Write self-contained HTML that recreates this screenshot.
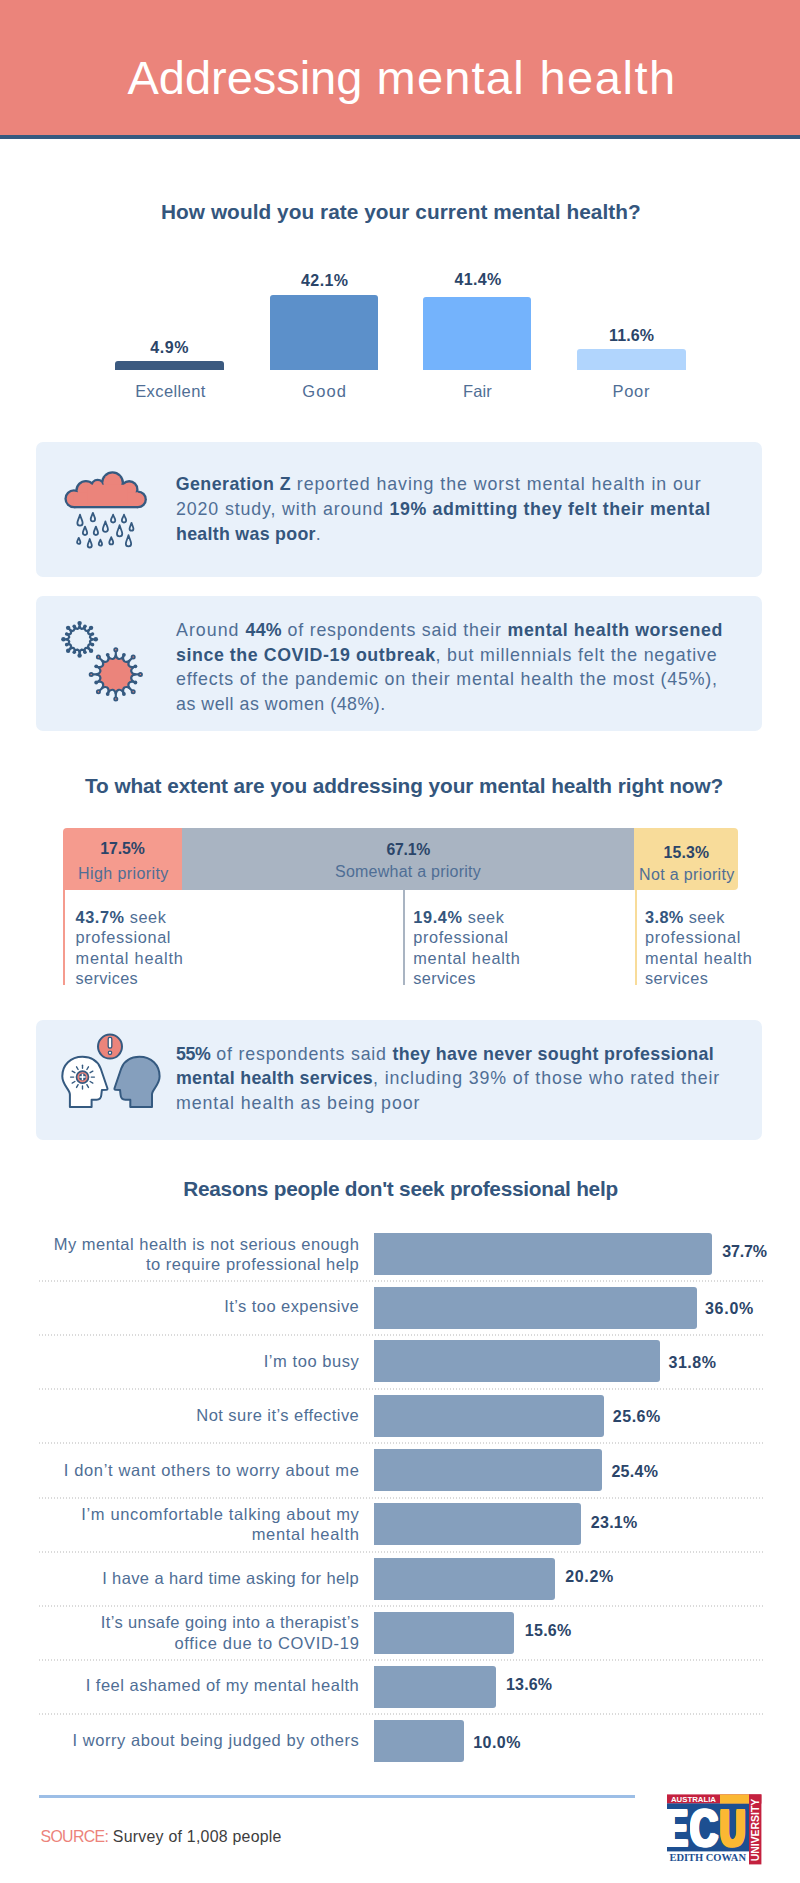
<!DOCTYPE html>
<html lang="en"><head><meta charset="utf-8"><title>Addressing mental health</title>
<style>
html,body{margin:0;padding:0;background:#fff;}
#page{position:relative;width:800px;height:1883px;overflow:hidden;background:#fff;font-family:"Liberation Sans",sans-serif;color:#4f6e95;}
#page div,#page svg{position:absolute;}
.t{position:absolute;margin:0;padding:0;font-weight:normal;white-space:nowrap;line-height:1;color:#4f6e95;}
.t b{color:#34567d;font-weight:bold;}
.t .src{color:#ec837b;}
.hdr{left:0;top:0;width:800px;height:135px;background:#eb847b;}
.hdrline{left:0;top:135px;width:800px;height:4px;background:#355a80;}
.box{left:36px;width:726.4px;background:#e9f1fa;border-radius:7px;}
.vb{border-radius:3px 3px 0 0;}
.hb{left:374.2px;height:42.3px;background:#859fbd;border-radius:0 3px 3px 0;}
.dot{left:39px;width:723.5px;height:2px;background-image:repeating-linear-gradient(90deg,#dadada 0,#dadada 1px,transparent 1px,transparent 3px);}
.ecu{font-weight:bold;line-height:1;white-space:nowrap;transform-origin:0 0;}

</style></head>
<body>
<div id="page">
<div class="hdr"></div><div class="hdrline"></div>
<div class="vb" style="left:114.5px;top:360.8px;width:109.3px;height:9.0px;background:#3b5a80"></div>
<div class="vb" style="left:270.0px;top:295.1px;width:108.3px;height:74.7px;background:#5c90ca"></div>
<div class="vb" style="left:423.2px;top:296.5px;width:108.1px;height:73.3px;background:#74b3fc"></div>
<div class="vb" style="left:577.0px;top:349.0px;width:108.7px;height:20.8px;background:#b1d5fd"></div>
<div class="box" style="top:441.85px;height:135.25px"></div>
<div class="box" style="top:596.00px;height:135.20px"></div>
<div class="box" style="top:1020.00px;height:119.50px"></div>
<div style="left:63px;top:828px;width:119.2px;height:61.6px;background:#f59b8e;border-radius:4px 0 0 0"></div>
<div style="left:182.2px;top:828px;width:452px;height:61.6px;background:#a9b4c2"></div>
<div style="left:634.2px;top:828px;width:103.8px;height:61.6px;background:#f8dc9a;border-radius:0 4px 4px 0"></div>
<div style="left:63.0px;top:889px;width:2px;height:95.5px;background:#f59b8e"></div>
<div style="left:403.0px;top:889px;width:2px;height:95.5px;background:#a9b4c2"></div>
<div style="left:634.8px;top:889px;width:2px;height:95.5px;background:#f8dc9a"></div>
<div class="hb" style="top:1232.7px;width:337.6px"></div>
<div class="hb" style="top:1286.5px;width:322.6px"></div>
<div class="hb" style="top:1340.1px;width:285.7px"></div>
<div class="hb" style="top:1394.7px;width:229.5px"></div>
<div class="hb" style="top:1449.2px;width:227.5px"></div>
<div class="hb" style="top:1503.2px;width:206.7px"></div>
<div class="hb" style="top:1557.6px;width:180.7px"></div>
<div class="hb" style="top:1611.6px;width:139.5px"></div>
<div class="hb" style="top:1665.6px;width:121.5px"></div>
<div class="hb" style="top:1719.8px;width:89.5px"></div>
<div class="dot" style="top:1280px"></div>
<div class="dot" style="top:1334px"></div>
<div class="dot" style="top:1388px"></div>
<div class="dot" style="top:1442px"></div>
<div class="dot" style="top:1497px"></div>
<div class="dot" style="top:1551px"></div>
<div class="dot" style="top:1605px"></div>
<div class="dot" style="top:1659px"></div>
<div class="dot" style="top:1713px"></div>
<div style="left:39px;top:1795px;width:595.5px;height:3px;background:#9cbee6"></div>
<svg style="left:55px;top:462px" width="100" height="93" viewBox="55 462 100 93">
<g fill="#355a80"><circle cx="73.9" cy="498.8" r="9.5"/><circle cx="85.9" cy="490.6" r="10.6"/><circle cx="97.6" cy="486.2" r="7.4"/><circle cx="112.5" cy="482.8" r="11.5"/><circle cx="129.2" cy="489.4" r="9.3"/><circle cx="138" cy="499.4" r="8.9"/><rect x="73.9" y="490" width="64.1" height="18.3"/><rect x="85" y="482.5" width="45" height="20"/></g>
<g fill="#eb847b"><circle cx="73.9" cy="498.8" r="7.2"/><circle cx="85.9" cy="490.6" r="8.3"/><circle cx="97.6" cy="486.2" r="5.1"/><circle cx="112.5" cy="482.8" r="9.2"/><circle cx="129.2" cy="489.4" r="7"/><circle cx="138" cy="499.4" r="6.6"/><rect x="73.9" y="492.3" width="64.1" height="13.7"/><rect x="87.3" y="484.8" width="40.4" height="20"/></g>
<g fill="none" stroke="#355a80" stroke-width="1.8" stroke-linejoin="round"><path d="M80.00 514.70C80.93 518.46 82.65 520.67 82.65 523.05A2.65 2.65 0 0 1 77.35 523.05C77.35 520.67 79.07 518.46 80.00 514.70Z"/><path d="M92.90 512.80C93.65 515.66 95.05 517.22 95.05 519.15A2.15 2.15 0 0 1 90.75 519.15C90.75 517.22 92.15 515.66 92.90 512.80Z"/><path d="M113.10 514.70C113.85 517.24 115.25 518.42 115.25 520.35A2.15 2.15 0 0 1 110.95 520.35C110.95 518.42 112.35 517.24 113.10 514.70Z"/><path d="M124.00 514.70C124.75 517.24 126.15 518.42 126.15 520.35A2.15 2.15 0 0 1 121.85 520.35C121.85 518.42 123.25 517.24 124.00 514.70Z"/><path d="M85.00 526.60C85.75 529.41 87.15 530.92 87.15 532.85A2.15 2.15 0 0 1 82.85 532.85C82.85 530.92 84.25 529.41 85.00 526.60Z"/><path d="M95.90 526.60C96.65 529.41 98.05 530.92 98.05 532.85A2.15 2.15 0 0 1 93.75 532.85C93.75 530.92 95.15 529.41 95.90 526.60Z"/><path d="M105.40 521.40C106.29 524.98 107.95 527.06 107.95 529.35A2.55 2.55 0 0 1 102.85 529.35C102.85 527.06 104.51 524.98 105.40 521.40Z"/><path d="M119.60 525.20C120.53 529.00 122.25 531.27 122.25 533.65A2.65 2.65 0 0 1 116.95 533.65C116.95 531.27 118.67 529.00 119.60 525.20Z"/><path d="M131.50 522.80C132.18 525.48 133.45 527.00 133.45 528.75A1.95 1.95 0 0 1 129.55 528.75C129.55 527.00 130.82 525.48 131.50 522.80Z"/><path d="M78.75 537.80C79.33 539.76 80.40 540.67 80.40 542.15A1.65 1.65 0 0 1 77.10 542.15C77.10 540.67 78.17 539.76 78.75 537.80Z"/><path d="M89.75 539.00C90.47 541.90 91.80 543.61 91.80 545.45A2.05 2.05 0 0 1 87.70 545.45C87.70 543.61 89.03 541.90 89.75 539.00Z"/><path d="M100.40 539.70C100.98 541.66 102.05 542.57 102.05 544.05A1.65 1.65 0 0 1 98.75 544.05C98.75 542.57 99.82 541.66 100.40 539.70Z"/><path d="M111.25 537.20C111.93 539.56 113.20 540.69 113.20 542.45A1.95 1.95 0 0 1 109.30 542.45C109.30 540.69 110.57 539.56 111.25 537.20Z"/><path d="M128.50 535.20C129.43 539.00 131.15 541.27 131.15 543.65A2.65 2.65 0 0 1 125.85 543.65C125.85 541.27 127.57 539.00 128.50 535.20Z"/></g>
</svg>
<svg style="left:55px;top:615px" width="100" height="95" viewBox="55 615 100 95">
<path d="M77.53 628.90Q79.09 628.41 79.60 626.30Q80.11 628.41 81.67 628.90Q83.29 629.04 84.57 627.29Q84.24 629.44 85.49 630.49Q86.94 631.24 88.79 630.11Q87.66 631.96 88.41 633.41Q89.46 634.66 91.61 634.33Q89.86 635.61 90.00 637.23Q90.49 638.79 92.60 639.30Q90.49 639.81 90.00 641.37Q89.86 642.99 91.61 644.27Q89.46 643.94 88.41 645.19Q87.66 646.64 88.79 648.49Q86.94 647.36 85.49 648.11Q84.24 649.16 84.57 651.31Q83.29 649.56 81.67 649.70Q80.11 650.19 79.60 652.30Q79.09 650.19 77.53 649.70Q75.91 649.56 74.63 651.31Q74.96 649.16 73.71 648.11Q72.26 647.36 70.41 648.49Q71.54 646.64 70.79 645.19Q69.74 643.94 67.59 644.27Q69.34 642.99 69.20 641.37Q68.71 639.81 66.60 639.30Q68.71 638.79 69.20 637.23Q69.34 635.61 67.59 634.33Q69.74 634.66 70.79 633.41Q71.54 631.96 70.41 630.11Q72.26 631.24 73.71 630.49Q74.96 629.44 74.63 627.29Q75.91 629.04 77.53 628.90Z" fill="none" stroke="#355a80" stroke-width="2.3" stroke-linejoin="round"/><line x1="79.60" y1="626.80" x2="79.60" y2="623.10" stroke="#355a80" stroke-width="2.3" stroke-linecap="round"/><circle cx="79.60" cy="623.10" r="2.2" fill="#355a80"/><line x1="84.38" y1="627.75" x2="84.96" y2="626.37" stroke="#355a80" stroke-width="2.3" stroke-linecap="round"/><circle cx="84.96" cy="626.37" r="1.8" fill="#355a80"/><line x1="88.44" y1="630.46" x2="91.06" y2="627.84" stroke="#355a80" stroke-width="2.3" stroke-linecap="round"/><circle cx="91.06" cy="627.84" r="2.2" fill="#355a80"/><line x1="91.15" y1="634.52" x2="92.53" y2="633.94" stroke="#355a80" stroke-width="2.3" stroke-linecap="round"/><circle cx="92.53" cy="633.94" r="1.8" fill="#355a80"/><line x1="92.10" y1="639.30" x2="95.80" y2="639.30" stroke="#355a80" stroke-width="2.3" stroke-linecap="round"/><circle cx="95.80" cy="639.30" r="2.2" fill="#355a80"/><line x1="91.15" y1="644.08" x2="92.53" y2="644.66" stroke="#355a80" stroke-width="2.3" stroke-linecap="round"/><circle cx="92.53" cy="644.66" r="1.8" fill="#355a80"/><line x1="88.44" y1="648.14" x2="91.06" y2="650.76" stroke="#355a80" stroke-width="2.3" stroke-linecap="round"/><circle cx="91.06" cy="650.76" r="2.2" fill="#355a80"/><line x1="84.38" y1="650.85" x2="84.96" y2="652.23" stroke="#355a80" stroke-width="2.3" stroke-linecap="round"/><circle cx="84.96" cy="652.23" r="1.8" fill="#355a80"/><line x1="79.60" y1="651.80" x2="79.60" y2="655.50" stroke="#355a80" stroke-width="2.3" stroke-linecap="round"/><circle cx="79.60" cy="655.50" r="2.2" fill="#355a80"/><line x1="74.82" y1="650.85" x2="74.24" y2="652.23" stroke="#355a80" stroke-width="2.3" stroke-linecap="round"/><circle cx="74.24" cy="652.23" r="1.8" fill="#355a80"/><line x1="70.76" y1="648.14" x2="68.14" y2="650.76" stroke="#355a80" stroke-width="2.3" stroke-linecap="round"/><circle cx="68.14" cy="650.76" r="2.2" fill="#355a80"/><line x1="68.05" y1="644.08" x2="66.67" y2="644.66" stroke="#355a80" stroke-width="2.3" stroke-linecap="round"/><circle cx="66.67" cy="644.66" r="1.8" fill="#355a80"/><line x1="67.10" y1="639.30" x2="63.40" y2="639.30" stroke="#355a80" stroke-width="2.3" stroke-linecap="round"/><circle cx="63.40" cy="639.30" r="2.2" fill="#355a80"/><line x1="68.05" y1="634.52" x2="66.67" y2="633.94" stroke="#355a80" stroke-width="2.3" stroke-linecap="round"/><circle cx="66.67" cy="633.94" r="1.8" fill="#355a80"/><line x1="70.76" y1="630.46" x2="68.14" y2="627.84" stroke="#355a80" stroke-width="2.3" stroke-linecap="round"/><circle cx="68.14" cy="627.84" r="2.2" fill="#355a80"/><line x1="74.82" y1="627.75" x2="74.24" y2="626.37" stroke="#355a80" stroke-width="2.3" stroke-linecap="round"/><circle cx="74.24" cy="626.37" r="1.8" fill="#355a80"/>
<path d="M112.74 659.00Q115.05 658.42 115.80 655.10Q116.55 658.42 118.86 659.00Q121.22 659.35 123.19 656.57Q122.61 659.92 124.52 661.35Q126.57 662.57 129.45 660.75Q127.63 663.63 128.85 665.68Q130.28 667.59 133.63 667.01Q130.85 668.98 131.20 671.34Q131.78 673.65 135.10 674.40Q131.78 675.15 131.20 677.46Q130.85 679.82 133.63 681.79Q130.28 681.21 128.85 683.12Q127.63 685.17 129.45 688.05Q126.57 686.23 124.52 687.45Q122.61 688.88 123.19 692.23Q121.22 689.45 118.86 689.80Q116.55 690.38 115.80 693.70Q115.05 690.38 112.74 689.80Q110.38 689.45 108.41 692.23Q108.99 688.88 107.08 687.45Q105.03 686.23 102.15 688.05Q103.97 685.17 102.75 683.12Q101.32 681.21 97.97 681.79Q100.75 679.82 100.40 677.46Q99.82 675.15 96.50 674.40Q99.82 673.65 100.40 671.34Q100.75 668.98 97.97 667.01Q101.32 667.59 102.75 665.68Q103.97 663.63 102.15 660.75Q105.03 662.57 107.08 661.35Q108.99 659.92 108.41 656.57Q110.38 659.35 112.74 659.00Z" fill="#eb847b" stroke="#355a80" stroke-width="2.15" stroke-linejoin="round"/><line x1="115.80" y1="655.60" x2="115.80" y2="649.80" stroke="#355a80" stroke-width="2.15" stroke-linecap="round"/><circle cx="115.80" cy="649.80" r="1.6" fill="#eb847b" stroke="#355a80" stroke-width="1.8"/><line x1="122.99" y1="657.03" x2="123.91" y2="654.81" stroke="#355a80" stroke-width="2.15" stroke-linecap="round"/><circle cx="123.91" cy="654.81" r="1.9" fill="#355a80"/><line x1="129.09" y1="661.11" x2="133.19" y2="657.01" stroke="#355a80" stroke-width="2.15" stroke-linecap="round"/><circle cx="133.19" cy="657.01" r="1.6" fill="#eb847b" stroke="#355a80" stroke-width="1.8"/><line x1="133.17" y1="667.21" x2="135.39" y2="666.29" stroke="#355a80" stroke-width="2.15" stroke-linecap="round"/><circle cx="135.39" cy="666.29" r="1.9" fill="#355a80"/><line x1="134.60" y1="674.40" x2="140.40" y2="674.40" stroke="#355a80" stroke-width="2.15" stroke-linecap="round"/><circle cx="140.40" cy="674.40" r="1.6" fill="#eb847b" stroke="#355a80" stroke-width="1.8"/><line x1="133.17" y1="681.59" x2="135.39" y2="682.51" stroke="#355a80" stroke-width="2.15" stroke-linecap="round"/><circle cx="135.39" cy="682.51" r="1.9" fill="#355a80"/><line x1="129.09" y1="687.69" x2="133.19" y2="691.79" stroke="#355a80" stroke-width="2.15" stroke-linecap="round"/><circle cx="133.19" cy="691.79" r="1.6" fill="#eb847b" stroke="#355a80" stroke-width="1.8"/><line x1="122.99" y1="691.77" x2="123.91" y2="693.99" stroke="#355a80" stroke-width="2.15" stroke-linecap="round"/><circle cx="123.91" cy="693.99" r="1.9" fill="#355a80"/><line x1="115.80" y1="693.20" x2="115.80" y2="699.00" stroke="#355a80" stroke-width="2.15" stroke-linecap="round"/><circle cx="115.80" cy="699.00" r="1.6" fill="#eb847b" stroke="#355a80" stroke-width="1.8"/><line x1="108.61" y1="691.77" x2="107.69" y2="693.99" stroke="#355a80" stroke-width="2.15" stroke-linecap="round"/><circle cx="107.69" cy="693.99" r="1.9" fill="#355a80"/><line x1="102.51" y1="687.69" x2="98.41" y2="691.79" stroke="#355a80" stroke-width="2.15" stroke-linecap="round"/><circle cx="98.41" cy="691.79" r="1.6" fill="#eb847b" stroke="#355a80" stroke-width="1.8"/><line x1="98.43" y1="681.59" x2="96.21" y2="682.51" stroke="#355a80" stroke-width="2.15" stroke-linecap="round"/><circle cx="96.21" cy="682.51" r="1.9" fill="#355a80"/><line x1="97.00" y1="674.40" x2="91.20" y2="674.40" stroke="#355a80" stroke-width="2.15" stroke-linecap="round"/><circle cx="91.20" cy="674.40" r="1.6" fill="#eb847b" stroke="#355a80" stroke-width="1.8"/><line x1="98.43" y1="667.21" x2="96.21" y2="666.29" stroke="#355a80" stroke-width="2.15" stroke-linecap="round"/><circle cx="96.21" cy="666.29" r="1.9" fill="#355a80"/><line x1="102.51" y1="661.11" x2="98.41" y2="657.01" stroke="#355a80" stroke-width="2.15" stroke-linecap="round"/><circle cx="98.41" cy="657.01" r="1.6" fill="#eb847b" stroke="#355a80" stroke-width="1.8"/><line x1="108.61" y1="657.03" x2="107.69" y2="654.81" stroke="#355a80" stroke-width="2.15" stroke-linecap="round"/><circle cx="107.69" cy="654.81" r="1.9" fill="#355a80"/>
</svg>
<svg style="left:55px;top:1028px" width="112" height="87" viewBox="55 1028 112 87">
<path d="M69.9 1107.1L69.9 1094.5C69.9 1089 62.3 1085.5 62.3 1076.3C62.3 1065 70.6 1056.7 82.5 1056.7C91.2 1056.7 98 1061.2 100.6 1068.3L107.4 1088.3Q107.7 1089.6 106.4 1089.7L101.9 1089.9L101.3 1095Q101 1099.7 96.6 1099.7L91.6 1099.8L91.6 1107.1Z" fill="#fff" stroke="#355a80" stroke-width="2" stroke-linejoin="round"/>
<g transform="translate(221.9 0) scale(-1 1)"><path d="M69.9 1107.1L69.9 1094.5C69.9 1089 62.3 1085.5 62.3 1076.3C62.3 1065 70.6 1056.7 82.5 1056.7C91.2 1056.7 98 1061.2 100.6 1068.3L107.4 1088.3Q107.7 1089.6 106.4 1089.7L101.9 1089.9L101.3 1095Q101 1099.7 96.6 1099.7L91.6 1099.8L91.6 1107.1Z" fill="#859fbd" stroke="#355a80" stroke-width="2" stroke-linejoin="round"/></g>
<g stroke="#355a80" stroke-width="1.4" stroke-linecap="round"><line x1="91.30" y1="1077.10" x2="94.40" y2="1077.10"/><line x1="90.12" y1="1081.50" x2="92.81" y2="1083.05"/><line x1="86.90" y1="1084.72" x2="88.45" y2="1087.41"/><line x1="82.50" y1="1085.90" x2="82.50" y2="1089.00"/><line x1="78.10" y1="1084.72" x2="76.55" y2="1087.41"/><line x1="74.88" y1="1081.50" x2="72.19" y2="1083.05"/><line x1="73.70" y1="1077.10" x2="70.60" y2="1077.10"/><line x1="74.88" y1="1072.70" x2="72.19" y2="1071.15"/><line x1="78.10" y1="1069.48" x2="76.55" y2="1066.79"/><line x1="82.50" y1="1068.30" x2="82.50" y2="1065.20"/><line x1="86.90" y1="1069.48" x2="88.45" y2="1066.79"/><line x1="90.12" y1="1072.70" x2="92.81" y2="1071.15"/></g><circle cx="82.5" cy="1077.1" r="6" fill="#eb847b" stroke="#355a80" stroke-width="1.7"/><circle cx="82.5" cy="1077.1" r="3.5" fill="#355a80"/><path d="M82.5 1074.6v5M80 1077.1h5" stroke="#fff" stroke-width="1.5" stroke-linecap="round"/>
<circle cx="110" cy="1046.6" r="12" fill="#eb847b" stroke="#355a80" stroke-width="2"/>
<rect x="108.2" y="1037.4" width="3.6" height="10.6" rx="1.6" fill="#fff" stroke="#355a80" stroke-width="1.3"/>
<circle cx="110" cy="1052.8" r="1.7" fill="#fff" stroke="#355a80" stroke-width="1.3"/>
</svg>
<svg style="left:660px;top:1788px" width="110" height="84" viewBox="660 1788 110 84">
<rect x="667" y="1794.4" width="94.4" height="9.2" fill="#c4213f"/>
<rect x="749" y="1794.4" width="12.4" height="70" fill="#c4213f"/>
<rect x="667" y="1803.4" width="82" height="48" fill="#1d4f91"/>
<rect x="720" y="1794.4" width="29" height="9.2" fill="#fbb833"/>
<text x="671" y="1801.6" font-family="Liberation Sans, sans-serif" font-weight="bold" font-size="6.6" fill="#fff" textLength="45" lengthAdjust="spacingAndGlyphs">AUSTRALIA</text>
<text transform="translate(759.3 1861.3) rotate(-90)" font-family="Liberation Sans, sans-serif" font-weight="bold" font-size="10.6" fill="#fff" textLength="62.5" lengthAdjust="spacingAndGlyphs">UNIVERSITY</text>
<text x="669.4" y="1860.6" font-family="Liberation Serif, serif" font-weight="bold" font-size="10" fill="#1d4f91" textLength="76.6" lengthAdjust="spacingAndGlyphs">EDITH COWAN</text>
</svg>
<div class="ecu" style="left:666.3px;top:1801.70px;font-size:52px;color:#fff;transform:scale(0.615,1);text-shadow:-2.85px -0.7px 0 #fff,-2.85px 0px 0 #fff,-2.85px 0.7px 0 #fff,0px -0.7px 0 #fff,0px 0.7px 0 #fff,2.85px -0.7px 0 #fff,2.85px 0px 0 #fff,2.85px 0.7px 0 #fff">E</div>
<div class="ecu" style="left:689.8px;top:1801.70px;font-size:52px;color:#fff;transform:scale(0.745,1);text-shadow:-2px -0.7px 0 #fff,-2px 0px 0 #fff,-2px 0.7px 0 #fff,0px -0.7px 0 #fff,0px 0.7px 0 #fff,2px -0.7px 0 #fff,2px 0px 0 #fff,2px 0.7px 0 #fff">C</div>
<div class="ecu" style="left:720.2px;top:1801.70px;font-size:52px;color:#fbb833;transform:scale(0.67,1);text-shadow:-2.5px -0.7px 0 #fbb833,-2.5px 0px 0 #fbb833,-2.5px 0.7px 0 #fbb833,0px -0.7px 0 #fbb833,0px 0.7px 0 #fbb833,2.5px -0.7px 0 #fbb833,2.5px 0px 0 #fbb833,2.5px 0.7px 0 #fbb833">U</div>
<!-- text -->
<h1 class="t" id="t0" style="top:53.75px;font-size:47.00px;left:127.50px;color:#fff;"><span style="letter-spacing:-0.034px">Addressing</span><span style="letter-spacing:1.194px"> mental</span><span style="letter-spacing:1.549px"> health</span></h1>
<h2 class="t" id="t1" style="top:202.12px;font-size:20.80px;left:161.00px;letter-spacing:0.054px;"><b>How would you rate your current mental health?</b></h2>
<h2 class="t" id="t2" style="top:775.82px;font-size:20.80px;left:85.00px;letter-spacing:-0.081px;"><b>To what extent are you addressing your mental health right now?</b></h2>
<h2 class="t" id="t3" style="top:1178.82px;font-size:20.80px;left:183.20px;letter-spacing:-0.245px;"><b>Reasons people don't seek professional help</b></h2>
<div class="t" id="t4" style="top:339.70px;font-size:16.00px;left:150.30px;letter-spacing:0.604px;color:#2b4569;"><b style="color:#2b4569">4.9%</b></div>
<div class="t" id="t5" style="top:272.60px;font-size:16.00px;left:301.00px;letter-spacing:0.426px;color:#2b4569;"><b style="color:#2b4569">42.1%</b></div>
<div class="t" id="t6" style="top:272.40px;font-size:16.00px;left:454.40px;letter-spacing:0.376px;color:#2b4569;"><b style="color:#2b4569">41.4%</b></div>
<div class="t" id="t7" style="top:328.00px;font-size:16.00px;left:609.00px;letter-spacing:0.149px;color:#2b4569;"><b style="color:#2b4569">11.6%</b></div>
<div class="t" id="t8" style="top:383.18px;font-size:16.50px;left:135.20px;letter-spacing:0.396px;">Excellent</div>
<div class="t" id="t9" style="top:383.18px;font-size:16.50px;left:302.20px;letter-spacing:1.115px;">Good</div>
<div class="t" id="t10" style="top:383.18px;font-size:16.50px;left:463.00px;letter-spacing:0.133px;">Fair</div>
<div class="t" id="t11" style="top:383.18px;font-size:16.50px;left:612.50px;letter-spacing:0.720px;">Poor</div>
<div class="t" id="t12" style="top:476.37px;font-size:17.80px;left:175.70px;"><b style="letter-spacing:0.469px">Generation Z</b><span style="letter-spacing:0.932px"> reported having the worst mental health in our</span></div>
<div class="t" id="t13" style="top:501.37px;font-size:17.80px;left:176.00px;"><span style="letter-spacing:0.878px">2020 study, with around </span><b style="letter-spacing:0.611px">19% admitting they felt their mental</b></div>
<div class="t" id="t14" style="top:526.07px;font-size:17.80px;left:176.00px;"><b style="letter-spacing:0.296px">health was poor</b><span style="letter-spacing:1.315px">.</span></div>
<div class="t" id="t15" style="top:621.87px;font-size:17.80px;left:176.00px;"><span style="letter-spacing:1.031px">Around </span><b style="letter-spacing:0.269px">44%</b><span style="letter-spacing:0.777px"> of respondents said their </span><b style="letter-spacing:0.581px">mental health worsened</b></div>
<div class="t" id="t16" style="top:646.67px;font-size:17.80px;left:176.00px;"><b style="letter-spacing:0.575px">since the COVID-19 outbreak</b><span style="letter-spacing:0.824px">, but millennials felt the negative</span></div>
<div class="t" id="t17" style="top:671.37px;font-size:17.80px;left:176.00px;letter-spacing:0.838px;">effects of the pandemic on their mental health the most (45%),</div>
<div class="t" id="t18" style="top:696.17px;font-size:17.80px;left:176.00px;letter-spacing:0.526px;">as well as women (48%).</div>
<div class="t" id="t19" style="top:1045.67px;font-size:17.80px;left:176.00px;"><b style="letter-spacing:-0.331px">55%</b><span style="letter-spacing:0.801px"> of respondents said </span><b style="letter-spacing:0.350px">they have never sought professional</b></div>
<div class="t" id="t20" style="top:1070.37px;font-size:17.80px;left:176.00px;"><b style="letter-spacing:0.284px">mental health services</b><span style="letter-spacing:0.895px">, including 39% of those who rated their</span></div>
<div class="t" id="t21" style="top:1095.17px;font-size:17.80px;left:176.00px;letter-spacing:0.922px;">mental health as being poor</div>
<div class="t" id="t22" style="top:840.77px;font-size:15.80px;left:100.30px;letter-spacing:-0.058px;color:#2b4569;"><b style="color:#2b4569">17.5%</b></div>
<div class="t" id="t23" style="top:865.60px;font-size:16.00px;left:78.00px;letter-spacing:0.410px;">High priority</div>
<div class="t" id="t24" style="top:841.57px;font-size:15.80px;left:386.50px;letter-spacing:-0.258px;color:#2b4569;"><b style="color:#2b4569">67.1%</b></div>
<div class="t" id="t25" style="top:864.00px;font-size:16.00px;left:335.00px;letter-spacing:0.238px;">Somewhat a priority</div>
<div class="t" id="t26" style="top:844.57px;font-size:15.80px;left:663.60px;letter-spacing:0.167px;color:#2b4569;"><b style="color:#2b4569">15.3%</b></div>
<div class="t" id="t27" style="top:866.70px;font-size:16.00px;left:639.00px;letter-spacing:0.352px;">Not a priority</div>
<div class="t" id="t28" style="top:909.14px;font-size:16.30px;left:75.60px;letter-spacing:0.568px;"><b>43.7%</b><span> seek</span></div>
<div class="t" id="t29" style="top:929.35px;font-size:16.30px;left:75.60px;letter-spacing:0.646px;">professional</div>
<div class="t" id="t30" style="top:949.54px;font-size:16.30px;left:75.60px;letter-spacing:0.795px;">mental health</div>
<div class="t" id="t31" style="top:969.75px;font-size:16.30px;left:75.60px;letter-spacing:0.341px;">services</div>
<div class="t" id="t32" style="top:909.14px;font-size:16.30px;left:413.30px;letter-spacing:0.612px;"><b>19.4%</b><span> seek</span></div>
<div class="t" id="t33" style="top:929.35px;font-size:16.30px;left:413.30px;letter-spacing:0.610px;">professional</div>
<div class="t" id="t34" style="top:949.54px;font-size:16.30px;left:413.30px;letter-spacing:0.737px;">mental health</div>
<div class="t" id="t35" style="top:969.75px;font-size:16.30px;left:413.30px;letter-spacing:0.326px;">services</div>
<div class="t" id="t36" style="top:909.14px;font-size:16.30px;left:645.00px;letter-spacing:0.407px;"><b>3.8%</b><span> seek</span></div>
<div class="t" id="t37" style="top:929.35px;font-size:16.30px;left:645.00px;letter-spacing:0.682px;">professional</div>
<div class="t" id="t38" style="top:949.54px;font-size:16.30px;left:645.00px;letter-spacing:0.753px;">mental health</div>
<div class="t" id="t39" style="top:969.75px;font-size:16.30px;left:645.00px;letter-spacing:0.441px;">services</div>
<div class="t" id="t40" style="top:1236.38px;font-size:16.50px;right:440.71px;letter-spacing:0.487px;">My mental health is not serious enough</div>
<div class="t" id="t41" style="top:1255.97px;font-size:16.50px;right:440.69px;letter-spacing:0.510px;">to require professional help</div>
<div class="t" id="t42" style="top:1298.47px;font-size:16.50px;right:440.77px;letter-spacing:0.430px;">It’s too expensive</div>
<div class="t" id="t43" style="top:1352.97px;font-size:16.50px;right:440.64px;letter-spacing:0.559px;">I’m too busy</div>
<div class="t" id="t44" style="top:1406.97px;font-size:16.50px;right:440.75px;letter-spacing:0.453px;">Not sure it’s effective</div>
<div class="t" id="t45" style="top:1461.67px;font-size:16.50px;right:440.54px;letter-spacing:0.657px;">I don’t want others to worry about me</div>
<div class="t" id="t46" style="top:1506.38px;font-size:16.50px;right:440.54px;letter-spacing:0.659px;">I’m uncomfortable talking about my</div>
<div class="t" id="t47" style="top:1525.97px;font-size:16.50px;right:440.53px;letter-spacing:0.670px;">mental health</div>
<div class="t" id="t48" style="top:1569.77px;font-size:16.50px;right:440.82px;letter-spacing:0.383px;">I have a hard time asking for help</div>
<div class="t" id="t49" style="top:1614.38px;font-size:16.50px;right:440.81px;letter-spacing:0.395px;">It’s unsafe going into a therapist’s</div>
<div class="t" id="t50" style="top:1634.97px;font-size:16.50px;right:440.53px;letter-spacing:0.673px;">office due to COVID-19</div>
<div class="t" id="t51" style="top:1676.97px;font-size:16.50px;right:440.71px;letter-spacing:0.494px;">I feel ashamed of my mental health</div>
<div class="t" id="t52" style="top:1731.67px;font-size:16.50px;right:440.64px;letter-spacing:0.556px;">I worry about being judged by others</div>
<div class="t" id="t53" style="top:1243.60px;font-size:16.00px;left:722.30px;letter-spacing:-0.174px;color:#2b4569;"><b style="color:#2b4569">37.7%</b></div>
<div class="t" id="t54" style="top:1301.40px;font-size:16.00px;left:705.00px;letter-spacing:0.726px;color:#2b4569;"><b style="color:#2b4569">36.0%</b></div>
<div class="t" id="t55" style="top:1355.20px;font-size:16.00px;left:668.60px;letter-spacing:0.476px;color:#2b4569;"><b style="color:#2b4569">31.8%</b></div>
<div class="t" id="t56" style="top:1409.40px;font-size:16.00px;left:612.80px;letter-spacing:0.526px;color:#2b4569;"><b style="color:#2b4569">25.6%</b></div>
<div class="t" id="t57" style="top:1463.60px;font-size:16.00px;left:611.40px;letter-spacing:0.326px;color:#2b4569;"><b style="color:#2b4569">25.4%</b></div>
<div class="t" id="t58" style="top:1514.60px;font-size:16.00px;left:590.80px;letter-spacing:0.276px;color:#2b4569;"><b style="color:#2b4569">23.1%</b></div>
<div class="t" id="t59" style="top:1568.60px;font-size:16.00px;left:565.20px;letter-spacing:0.676px;color:#2b4569;"><b style="color:#2b4569">20.2%</b></div>
<div class="t" id="t60" style="top:1623.40px;font-size:16.00px;left:524.80px;letter-spacing:0.276px;color:#2b4569;"><b style="color:#2b4569">15.6%</b></div>
<div class="t" id="t61" style="top:1676.60px;font-size:16.00px;left:506.00px;letter-spacing:0.176px;color:#2b4569;"><b style="color:#2b4569">13.6%</b></div>
<div class="t" id="t62" style="top:1735.40px;font-size:16.00px;left:473.20px;letter-spacing:0.476px;color:#2b4569;"><b style="color:#2b4569">10.0%</b></div>
<div class="t" id="t63" style="top:1828.98px;font-size:15.90px;left:40.50px;color:#3d3d3d;"><span class="src" style="letter-spacing:-0.672px">SOURCE:</span><span style="letter-spacing:0.245px"> Survey of 1,008 people</span></div>
</div>
</body></html>
